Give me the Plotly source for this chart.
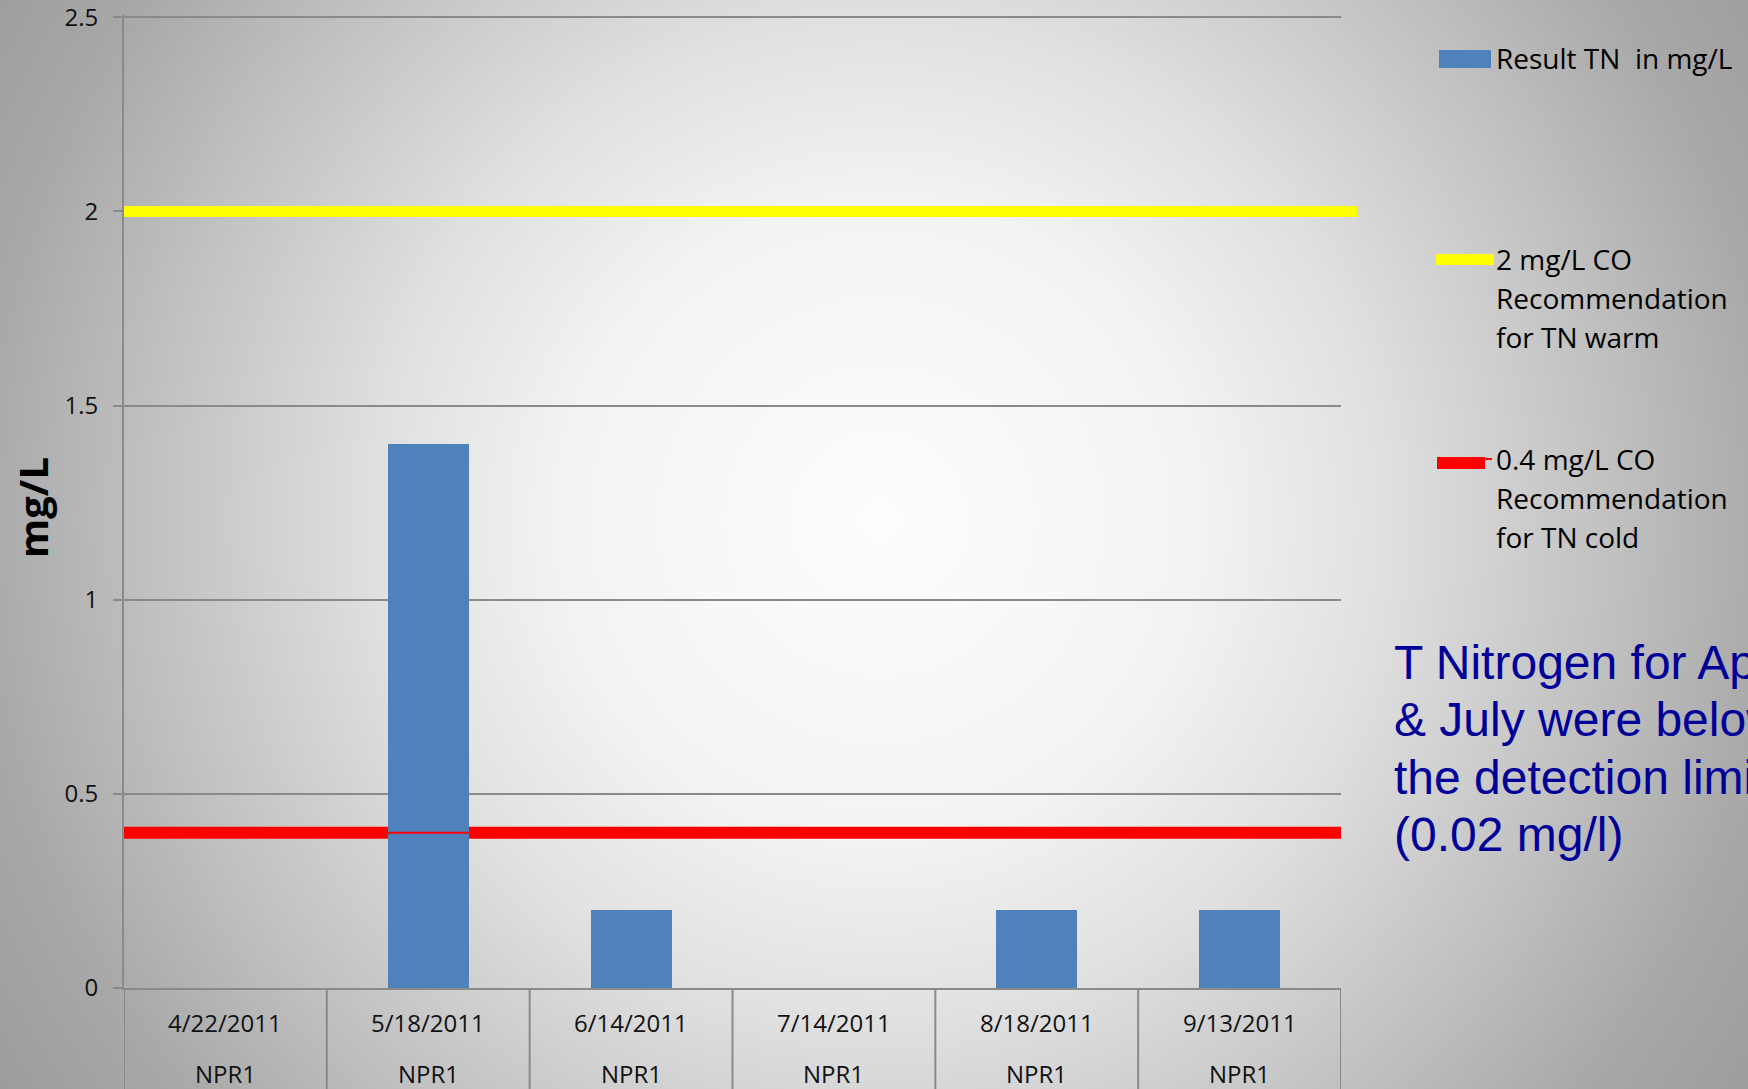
import base64
import plotly.graph_objects as go

# ---- data -------------------------------------------------------------
dates = ["4/22/2011", "5/18/2011", "6/14/2011", "7/14/2011", "8/18/2011", "9/13/2011"]
sites = ["NPR1", "NPR1", "NPR1", "NPR1", "NPR1", "NPR1"]
result_tn = [None, 1.4, 0.2, None, 0.2, 0.2]   # None = below detection limit
warm_limit = 2.0
cold_limit = 0.4
y_ticks = [0, 0.5, 1, 1.5, 2, 2.5]
y_tick_text = ["0", "0.5", "1", "1.5", "2", "2.5"]
y_max = 2.506   # a hair above the top tick so its grid line is kept

legend_labels = [
    ["Result TN\u00a0\u00a0in mg/L"],
    ["2 mg/L CO", "Recommendation", "for TN warm"],
    ["0.4 mg/L CO", "Recommendation", "for TN cold"],
]
note_lines = ["T Nitrogen for April", "& July were below", "the detection limit", "(0.02 mg/l)"]

# ---- layout geometry (pixels) ------------------------------------------
W, H = 1748, 1089
ML, MR, MT, MB = 124, 407, 15, 101
PW, PH = W - ML - MR, H - MT - MB


def px(x):
    return (x - ML) / PW


def py(y):
    return (MT + PH - y) / PH


BAR = "#4f81bd"
GRID = "#8a8a8a"
FONT = "Open Sans"

x_idx = list(range(len(dates)))

fig = go.Figure()
fig.add_trace(go.Bar(x=x_idx, y=result_tn, width=0.4, marker=dict(color=BAR, line=dict(width=0)),
                     showlegend=False, hoverinfo="x+y"))

# background: soft radial grey gradient, brightest just right of centre
svg = (
    "<svg xmlns='http://www.w3.org/2000/svg' width='1748' height='1089'>"
    "<defs><radialGradient id='g' gradientUnits='userSpaceOnUse' cx='880' cy='520' r='1050'>"
    "<stop offset='0' stop-color='#fdfdfd'/>"
    "<stop offset='0.3' stop-color='#f3f3f3'/>"
    "<stop offset='0.48' stop-color='#e0e0e0'/>"
    "<stop offset='0.7' stop-color='#c0c0c0'/>"
    "<stop offset='0.86' stop-color='#a8a8a8'/>"
    "<stop offset='1' stop-color='#9c9c9c'/>"
    "</radialGradient></defs>"
    "<rect width='1748' height='1089' fill='url(#g)'/></svg>"
)
bg_src = "data:image/svg+xml;base64," + base64.b64encode(svg.encode()).decode()

shapes = []
# category separators below the x axis
for b in range(len(dates) + 1):
    shapes.append(dict(type="line", xref="x", yref="paper", x0=b - 0.5, x1=b - 0.5,
                       y0=0, y1=-MB / PH, line=dict(color=GRID, width=2), layer="above"))
# threshold lines
shapes.append(dict(type="line", xref="paper", yref="y", x0=0.0, x1=px(1357),
                   y0=warm_limit, y1=warm_limit, line=dict(color="#ffff00", width=11), layer="above"))
shapes.append(dict(type="line", xref="paper", yref="y", x0=0.0, x1=1.0,
                   y0=cold_limit, y1=cold_limit, line=dict(color="#ff0000", width=12), layer="below"))
shapes.append(dict(type="line", xref="paper", yref="y", x0=0.0, x1=1.0,
                   y0=cold_limit, y1=cold_limit, line=dict(color="#ff0000", width=2), layer="above"))

# legend symbols
shapes.append(dict(type="rect", xref="paper", yref="paper", x0=px(1439), x1=px(1491),
                   y0=py(68), y1=py(50), fillcolor=BAR, line=dict(width=0)))
shapes.append(dict(type="line", xref="paper", yref="paper", x0=px(1436), x1=px(1494),
                   y0=py(259.5), y1=py(259.5), line=dict(color="#ffff00", width=11)))
shapes.append(dict(type="rect", xref="paper", yref="paper", x0=px(1437), x1=px(1485),
                   y0=py(469), y1=py(457), fillcolor="#ff0000", line=dict(width=0)))
shapes.append(dict(type="line", xref="paper", yref="paper", x0=px(1485), x1=px(1492),
                   y0=py(459), y1=py(459), line=dict(color="#ff0000", width=2)))

annotations = []
# two-row category labels
for i, (d, s) in enumerate(zip(dates, sites)):
    annotations.append(dict(x=i, y=0, xref="x", yref="paper", text=d, showarrow=False,
                            yanchor="middle", yshift=-34, font=dict(family=FONT, size=24, color="#111")))
    annotations.append(dict(x=i, y=0, xref="x", yref="paper", text=s, showarrow=False,
                            yanchor="middle", yshift=-85, font=dict(family=FONT, size=24, color="#111")))

# axis title
annotations.append(dict(x=px(33), y=py(508), xref="paper", yref="paper", text="<b>mg/L</b>",
                        textangle=-90, showarrow=False, xanchor="center", yanchor="middle",
                        font=dict(family=FONT, size=40, color="#000")))

# legend labels, one line per annotation
legend_centres = [[58], [259, 298, 337], [459, 498, 537]]
for lines, centres in zip(legend_labels, legend_centres):
    for text, yc in zip(lines, centres):
        annotations.append(dict(x=px(1494), y=py(yc), xref="paper", yref="paper", text=text,
                                showarrow=False, xanchor="left", yanchor="middle", align="left",
                                font=dict(family=FONT, size=28, color="#000")))

# note
for k, line in enumerate(note_lines):
    annotations.append(dict(x=px(1392), y=py(662 + 57.5 * k), xref="paper", yref="paper", text=line,
                            showarrow=False, xanchor="left", yanchor="middle",
                            font=dict(family="Liberation Sans", size=48, color="#000099")))

fig.update_layout(
    width=W, height=H,
    margin=dict(l=ML, r=MR, t=MT, b=MB, pad=0, autoexpand=False),
    paper_bgcolor="#b8b8b8",
    plot_bgcolor="rgba(0,0,0,0)",
    showlegend=False,
    bargap=0,
    shapes=shapes,
    annotations=annotations,
    images=[dict(source=bg_src, xref="paper", yref="paper", x=px(0), y=py(0),
                 sizex=W / PW, sizey=H / PH, xanchor="left", yanchor="top",
                 sizing="stretch", layer="below")],
    xaxis=dict(range=[-0.5, 5.5], showticklabels=False, showgrid=False, zeroline=False,
               showline=True, linecolor=GRID, linewidth=2, ticks="", fixedrange=True,
               automargin=False),
    yaxis=dict(range=[0, y_max], tickvals=y_ticks, ticktext=y_tick_text, showgrid=True,
               gridcolor=GRID, gridwidth=2, zeroline=False, showline=True, linecolor=GRID,
               linewidth=2, ticks="outside", ticklen=9, tickwidth=2, tickcolor=GRID,
               ticklabelstandoff=10, ticklabeloverflow="allow", automargin=False,
               tickfont=dict(family=FONT, size=24, color="#111"), fixedrange=True),
)

fig.write_html("out.html")
